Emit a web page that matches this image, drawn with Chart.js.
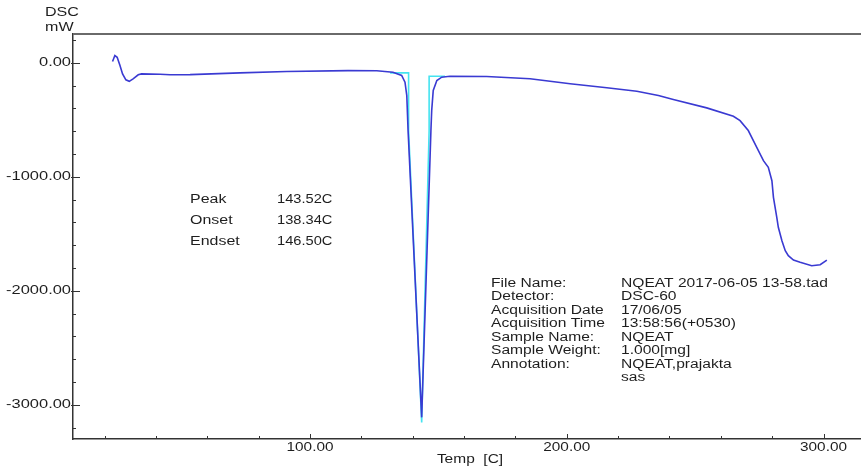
<!DOCTYPE html>
<html lang="en">
<head>
    <meta charset="UTF-8">
    <title>DSC</title>
    <script src="https://cdn.jsdelivr.net/npm/chart.js"></script>
    <style>
        body { margin: 0; padding: 0; background: #fff; }
        #wrap { position: relative; width: 861px; height: 474px; }
    </style>
</head>
<body>
    <div id="wrap"><canvas id="dscChart"></canvas></div>
    <script>
        // DSC trace (blue)
        const tempBlue = [23.1, 24.0, 24.9, 26.0, 27.0, 28.3, 29.6, 31.1, 33.1, 34.4, 41.6, 45.5, 53.3, 72.7, 90.9, 114.8, 126.0, 132.3,
            135.7, 137.0, 137.7, 138.2, 143.5, 147.1, 147.4, 148.0, 149.4, 151.3, 154.5, 168.8, 185.7, 201.3, 215.6, 227.3, 235.7,
            241.5, 254.5, 264.9, 267.5, 270.7, 274.0, 276.6, 278.5, 279.9, 280.5, 281.8, 282.4, 283.8, 285.1, 286.3, 288.3, 290.9,
            295.4, 298.7, 301.3];
        const dscBlue = [11, 64, 49, -24, -97, -149, -162, -140, -105, -97, -100, -105, -103, -88, -76, -68, -70, -83,
            -111, -170, -287, -594, -3110, -594, -419, -243, -155, -126, -118, -120, -140, -184, -219, -249, -287,
            -322, -395, -469, -507, -594, -741, -858, -917, -1034, -1180, -1356, -1443, -1560, -1648, -1692, -1730, -1750,
            -1780, -1771, -1730];

        // peak outline (cyan)
        const tempCyan = [131.2, 138.4, 138.4, 143.5, 146.4, 146.4, 152.6];
        const dscCyan = [-88, -88, -594, -3155, -594, -118, -118];

        const xTicks = [100, 200, 300];
        const yTicks = [0, -1000, -2000, -3000];

        const peakLabels = ['Peak', 'Onset', 'Endset'];
        const peakValues = ['143.52C', '138.34C', '146.50C'];

        const infoLabels = ['File Name:', 'Detector:', 'Acquisition Date', 'Acquisition Time', 'Sample Name:', 'Sample Weight:', 'Annotation:', ''];
        const infoValues = ['NQEAT 2017-06-05 13-58.tad', 'DSC-60', '17/06/05', '13:58:56(+0530)', 'NQEAT', '1.000[mg]', 'NQEAT,prajakta', 'sas'];

        const FONT = '12px "Liberation Sans", Arial, sans-serif';
        const TXT = '#1e1e1e';

        function stretchText(ctx, text, x, y, align, sx) {
            ctx.save();
            ctx.translate(x, y);
            ctx.scale(sx, 1);
            ctx.textAlign = align;
            ctx.textBaseline = 'middle';
            ctx.fillText(text, 0, 0);
            ctx.restore();
        }

        const decorPlugin = {
            id: 'decor',
            afterDraw(chart) {
                const ctx = chart.ctx;
                const a = chart.chartArea;
                const xs = chart.scales.x, ys = chart.scales.y;

                // top frame line
                ctx.save();
                ctx.strokeStyle = '#6a6a6a';
                ctx.lineWidth = 2;
                ctx.beginPath();
                ctx.moveTo(a.left, a.top);
                ctx.lineTo(a.right, a.top);
                ctx.stroke();

                // ticks (inside)
                ctx.strokeStyle = '#333';
                ctx.lineWidth = 1;
                ctx.beginPath();
                for (let v = 20; v <= 300; v += 20) {
                    const px = Math.round(xs.getPixelForValue(v)) + 0.5;
                    const len = v % 100 === 0 ? 5 : 3;
                    ctx.moveTo(px, a.bottom);
                    ctx.lineTo(px, a.bottom - len);
                }
                for (let v = 200; v >= -3200; v -= 200) {
                    const py = Math.round(ys.getPixelForValue(v)) + 0.5;
                    const major = v % 1000 === 0;
                    ctx.moveTo(a.left - (major ? 2 : 0), py);
                    ctx.lineTo(a.left + (major ? 7 : 3), py);
                }
                ctx.stroke();

                ctx.fillStyle = TXT;
                ctx.font = FONT;
                xTicks.forEach(v => stretchText(ctx, v.toFixed(2), xs.getPixelForValue(v), a.bottom + 9, 'center', 1.28));
                yTicks.forEach(v => stretchText(ctx, v.toFixed(2), a.left - 2, ys.getPixelForValue(v), 'right', 1.37));

                stretchText(ctx, 'Temp  [C]', 470, 460, 'center', 1.29);
                stretchText(ctx, 'DSC', 45, 13, 'left', 1.34);
                stretchText(ctx, 'mW', 45, 28, 'left', 1.34);

                peakLabels.forEach((t, i) => {
                    stretchText(ctx, t, 190, 200 + i * 21, 'left', 1.33);
                    stretchText(ctx, peakValues[i], 277, 200 + i * 21, 'left', 1.22);
                });
                infoLabels.forEach((t, i) => {
                    const y = 283.5 + i * 13.5;
                    stretchText(ctx, t, 491, y, 'left', 1.3);
                    stretchText(ctx, infoValues[i], 621, y, 'left', 1.3);
                });
                ctx.restore();
            }
        };

        const ctx = document.getElementById('dscChart').getContext('2d');
        new Chart(ctx, {
            type: 'scatter',
            data: {
                datasets: [{
                    data: tempBlue.map((t, i) => ({ x: t, y: dscBlue[i] })),
                    showLine: true,
                    borderColor: '#3a3ad2',
                    borderWidth: 1.6,
                    pointRadius: 0,
                    tension: 0
                }, {
                    data: tempCyan.map((t, i) => ({ x: t, y: dscCyan[i] })),
                    showLine: true,
                    borderColor: '#45e3f0',
                    borderWidth: 1.6,
                    pointRadius: 0,
                    tension: 0
                }]
            },
            options: {
                responsive: true,
                maintainAspectRatio: false,
                animation: false,
                layout: { padding: { top: 34, right: 0, left: 0, bottom: 0 } },
                plugins: { legend: { display: false }, tooltip: { enabled: false } },
                scales: {
                    x: {
                        type: 'linear',
                        min: 7.7,
                        max: 314.6,
                        grid: { display: false },
                        border: { display: true, color: '#333', width: 1.5 },
                        ticks: { display: false },
                        afterBuildTicks: s => { s.ticks = xTicks.map(v => ({ value: v })); },
                        afterFit: s => { s.height = 35; }
                    },
                    y: {
                        type: 'linear',
                        min: -3300,
                        max: 253,
                        grid: { display: false },
                        border: { display: true, color: '#333', width: 1.5 },
                        ticks: { display: false },
                        afterBuildTicks: s => { s.ticks = yTicks.map(v => ({ value: v })); },
                        afterFit: s => { s.width = 73; }
                    }
                }
            },
            plugins: [decorPlugin]
        });
    </script>
</body>
</html>
